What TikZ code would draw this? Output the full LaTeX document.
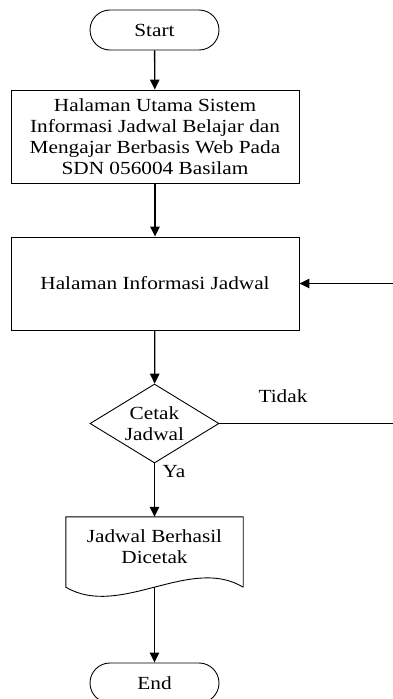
\documentclass[tikz,border=0pt]{standalone}
\usepackage{fontspec}
\setmainfont{Liberation Serif}[FakeStretch=1.15]
\usetikzlibrary{shapes.geometric,arrows.meta}
\begin{document}
\begin{tikzpicture}[x=1pt,y=-1pt,
  every node/.style={font=\fontsize{18.5}{21}\selectfont},
  term/.style={draw,line width=0.9pt,rounded corners=20pt,minimum width=129pt,minimum height=40pt,inner sep=0pt},
  procbox/.style={draw,line width=0.9pt,minimum width=288pt,minimum height=93pt,align=center,inner sep=0pt},
  decis/.style={draw,line width=0.9pt,diamond,aspect=1.633,minimum width=129pt,minimum height=79pt,inner sep=0pt,align=center},
  docarea/.style={minimum width=177pt,minimum height=70pt,inner sep=0pt},
  flow/.style={line width=1.3pt,-{Triangle[length=10pt,width=9.5pt]}},
  plain/.style={line width=0.9pt}]
\useasboundingbox (0,0) rectangle (393,699);
\clip (0,0) rectangle (393,699);
\node[term] (start) at (154.5,30) {Start};
\node[procbox] (main) at (155,136.5) {Halaman Utama Sistem\\Informasi Jadwal Belajar dan\\Mengajar Berbasis Web Pada\\SDN 056004 Basilam};
\node[procbox] (info) at (155,283.5) {Halaman Informasi Jadwal};
\node[decis] (dec) at (154.5,423.5) {Cetak\\Jadwal};
\node[docarea] (doc) at (154.5,552) {};
\node[align=center,inner sep=0pt] (doctext) at (154.5,547) {Jadwal Berhasil\\Dicetak};
\draw[plain] (doc.south east) -- (doc.north east) -- (doc.north west) -- (doc.south west)
  .. controls (120,619) and (190,555) .. (doc.south east);
\node[term] (end) at (154.5,683) {End};
\coordinate (rin) at (393,283.5);
\coordinate (rout) at (393,423.5);
\node (tidak) at (283,396) {Tidak};
\node (ya) at (174,472) {Ya};
\draw[flow] (start) -- (main);
\draw[flow] (main) -- (info);
\draw[flow] (info) -- (dec);
\draw[flow] (dec) -- (doc);
\draw[flow] (doc.south) -- (end);
\draw[flow] (rin) -- (info.east);
\draw[plain] (dec.east) -- (rout);
\end{tikzpicture}
\end{document}
